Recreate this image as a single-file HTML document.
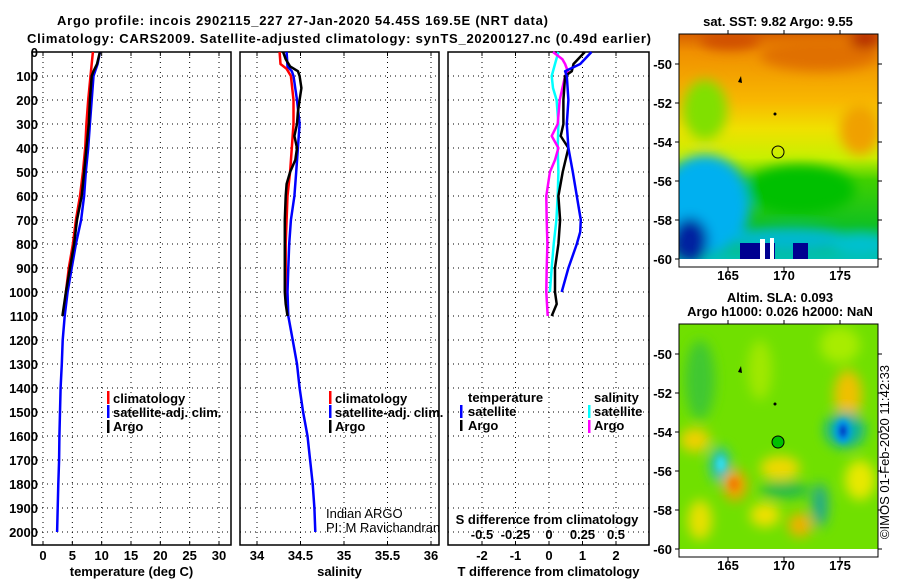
<!DOCTYPE html>
<html><head><meta charset="utf-8">
<style>
html,body{margin:0;padding:0;background:#fff;}
svg{display:block;font-family:"Liberation Sans",sans-serif;}
.t{font-weight:bold;font-size:13px;fill:#000;}
.grid{stroke:#000;stroke-width:1;stroke-dasharray:1 4;}
</style></head>
<body>
<svg id="fig" width="900" height="580" viewBox="0 0 900 580">
<defs>
<filter id="bl" x="-50%" y="-50%" width="200%" height="200%"><feGaussianBlur stdDeviation="6"/></filter>
<filter id="bl2" x="-50%" y="-50%" width="200%" height="200%"><feGaussianBlur stdDeviation="3"/></filter>
<clipPath id="c1"><rect x="679" y="34" width="199" height="225"/></clipPath>
<clipPath id="c2"><rect x="679" y="324" width="199" height="225"/></clipPath>
<linearGradient id="sst" x1="0" y1="0" x2="0" y2="1">
<stop offset="0" stop-color="#d86000"/><stop offset="0.08" stop-color="#f09000"/><stop offset="0.3" stop-color="#f8b800"/>
<stop offset="0.42" stop-color="#f0e000"/><stop offset="0.55" stop-color="#c8f000"/><stop offset="0.65" stop-color="#40d000"/>
<stop offset="0.85" stop-color="#10c020"/><stop offset="1" stop-color="#00c0b0"/>
</linearGradient>
</defs>
<text class="t" x="57" y="25" font-size="14" textLength="491">Argo profile: incois 2902115_227 27-Jan-2020 54.45S 169.5E (NRT data)</text>
<text class="t" x="27" y="43" font-size="14" textLength="624">Climatology: CARS2009. Satellite-adjusted climatology: synTS_20200127.nc (0.49d earlier)</text>
<g id="panels"></g>
<g id="legends">
 <rect x="107" y="391" width="2.5" height="13" fill="#f00"/>
 <text class="t" x="113" y="403">climatology</text>
 <rect x="107" y="405" width="2.5" height="13" fill="#00f"/>
 <text class="t" x="113" y="417">satellite-adj. clim.</text>
 <rect x="107" y="420" width="2.5" height="13" fill="#000"/>
 <text class="t" x="113" y="431">Argo</text>
 <rect x="329" y="391" width="2.5" height="13" fill="#f00"/>
 <text class="t" x="335" y="403">climatology</text>
 <rect x="329" y="405" width="2.5" height="13" fill="#00f"/>
 <text class="t" x="335" y="417">satellite-adj. clim.</text>
 <rect x="329" y="420" width="2.5" height="13" fill="#000"/>
 <text class="t" x="335" y="431">Argo</text>
 <text x="326" y="518" font-size="13">Indian ARGO</text>
 <text x="326" y="532" font-size="13">PI: M Ravichandran</text>
 <text class="t" x="468" y="402">temperature</text>
 <rect x="460" y="405" width="2.5" height="13" fill="#00f"/>
 <text class="t" x="468" y="416">satellite</text>
 <rect x="460" y="420" width="2.5" height="11" fill="#000"/>
 <text class="t" x="468" y="430">Argo</text>
 <text class="t" x="594" y="402">salinity</text>
 <rect x="588" y="405" width="2.5" height="13" fill="#0ff"/>
 <text class="t" x="594" y="416">satellite</text>
 <rect x="588" y="420" width="2.5" height="13" fill="#f0f"/>
 <text class="t" x="594" y="430">Argo</text>
 <text class="t" x="547" y="524" text-anchor="middle">S difference from climatology</text>
</g>
<g id="maps">
 <text class="t" x="778" y="26" text-anchor="middle">sat. SST: 9.82 Argo: 9.55</text>
 <g clip-path="url(#c1)">
  <rect x="679" y="34" width="199" height="225" fill="url(#sst)"/>
  <g filter="url(#bl)">
   <ellipse cx="730" cy="40" rx="30" ry="10" fill="#d05000"/>
   <ellipse cx="820" cy="55" rx="60" ry="16" fill="#e07000"/>
   <ellipse cx="865" cy="40" rx="15" ry="8" fill="#b02000"/>
   <ellipse cx="705" cy="110" rx="22" ry="30" fill="#80e000"/>
   <ellipse cx="860" cy="130" rx="20" ry="25" fill="#f0a000"/>
   <ellipse cx="705" cy="205" rx="45" ry="50" fill="#00b0f0"/>
   <ellipse cx="690" cy="240" rx="18" ry="22" fill="#0020a0"/>
   <ellipse cx="790" cy="240" rx="60" ry="12" fill="#00b8d0"/>
   <ellipse cx="860" cy="245" rx="30" ry="12" fill="#00c0d0"/>
   <ellipse cx="800" cy="190" rx="55" ry="25" fill="#00c000"/>
  </g>
  <rect x="740" y="243" width="35" height="16" fill="#000090"/>
  <rect x="760" y="239" width="5" height="20" fill="#fff"/>
  <rect x="770" y="238" width="4" height="21" fill="#fff"/>
  <rect x="793" y="243" width="15" height="16" fill="#000090"/>
  <circle cx="778" cy="152" r="6" fill="none" stroke="#000" stroke-width="1"/>
  <path d="M738,82 l3,-6 l1,7 z" fill="#000"/>
  <circle cx="775" cy="114" r="1.5" fill="#000"/>
 </g>
 <rect x="679" y="259" width="199" height="8" fill="#fff"/>
 <rect x="679" y="34" width="199" height="233" fill="none" stroke="#000"/>
 <text class="t" x="780" y="302" text-anchor="middle">Altim. SLA: 0.093</text>
 <text class="t" x="780" y="316" text-anchor="middle">Argo h1000: 0.026 h2000: NaN</text>
 <g clip-path="url(#c2)">
  <rect x="679" y="324" width="199" height="225" fill="#70e000"/>
  <g filter="url(#bl)">
   <ellipse cx="700" cy="380" rx="15" ry="40" fill="#40c830"/>
   <ellipse cx="760" cy="370" rx="12" ry="30" fill="#a0e800"/>
   <ellipse cx="840" cy="345" rx="20" ry="18" fill="#a8ec00"/>
   <ellipse cx="848" cy="395" rx="14" ry="25" fill="#f0c000"/>
   <ellipse cx="845" cy="430" rx="20" ry="18" fill="#10b0a0"/>
   <ellipse cx="695" cy="440" rx="15" ry="12" fill="#f0d000"/>
   <ellipse cx="720" cy="465" rx="10" ry="18" fill="#20c0c0"/>
   <ellipse cx="735" cy="485" rx="12" ry="16" fill="#f0a000"/>
   <ellipse cx="780" cy="468" rx="20" ry="12" fill="#f0d800"/>
   <ellipse cx="785" cy="490" rx="25" ry="8" fill="#20b850"/>
   <ellipse cx="820" cy="505" rx="8" ry="22" fill="#20a890"/>
   <ellipse cx="765" cy="515" rx="15" ry="12" fill="#f0e000"/>
   <ellipse cx="800" cy="525" rx="12" ry="12" fill="#f0b000"/>
   <ellipse cx="700" cy="520" rx="12" ry="20" fill="#e8e000"/>
   <ellipse cx="860" cy="480" rx="15" ry="20" fill="#e8e800"/>
  </g>
  <g filter="url(#bl2)">
   <ellipse cx="843" cy="431" rx="8" ry="12" fill="#00a0f0"/>
   <ellipse cx="843" cy="431" rx="4" ry="7" fill="#0020c0"/>
   <ellipse cx="721" cy="464" rx="4" ry="7" fill="#30e0f0"/>
   <ellipse cx="734" cy="484" rx="5" ry="6" fill="#f08000"/>
  </g>
  <circle cx="778" cy="442" r="6" fill="#00c000" stroke="#000" stroke-width="1"/>
  <path d="M738,372 l3,-6 l1,7 z" fill="#000"/>
  <circle cx="775" cy="404" r="1.5" fill="#000"/>
 </g>
 <rect x="679" y="549" width="199" height="8" fill="#fff"/>
 <rect x="679" y="324" width="199" height="233" fill="none" stroke="#000"/>
 <text x="889" y="452" font-size="13" text-anchor="middle" transform="rotate(-90 889 452)">©IMOS 01-Feb-2020 11:42:33</text>
 <g id="mapaxes"></g>
</g>
</svg>
<script>
// depth grid
const depthTicks = [0,100,200,300,400,500,600,700,800,900,1000,1100,1200,1300,1400,1500,1600,1700,1800,1900,2000];
// temperature (deg C)
const climTDepth = [0,50,100,200,300,400,500,600,700,800,900,1000,1100];
const climT = [8.5,8.3,8.1,7.7,7.4,7.2,6.8,6.3,5.6,5.1,4.4,3.9,3.5];
const satTDepth = [0,50,100,200,300,400,500,600,700,800,900,1000,1100,1200,1300,1400,1500,1600,1700,1800,1900,2000];
const satT = [9.7,9.3,8.6,8.3,8.0,7.7,7.3,7.0,6.5,5.6,4.9,4.2,3.7,3.35,3.2,3.0,2.9,2.8,2.75,2.6,2.5,2.4];
const argoTDepth = [0,50,80,100,200,300,400,500,600,700,800,900,1000,1100];
const argoT = [9.7,9.2,8.6,8.3,8.0,7.8,7.4,7.0,6.6,5.8,5.3,4.6,3.9,3.3];
// salinity
const climSDepth = [0,50,70,100,200,300,400,500,600,700,800,900,1000,1050,1100];
const climS = [34.26,34.27,34.34,34.39,34.42,34.42,34.40,34.38,34.35,34.34,34.33,34.33,34.33,34.34,34.36];
const satS = [34.34,34.35,34.40,34.42,34.46,34.49,34.47,34.45,34.43,34.39,34.37,34.36,34.35,34.36,34.41,34.46,34.49,34.53,34.58,34.61,34.64,34.66,34.67];
const satSDepth = [0,60,80,100,200,300,400,500,600,700,800,900,1000,1100,1200,1300,1400,1500,1600,1700,1800,1900,2000];
const argoSDepth = [0,30,60,80,100,150,200,250,300,350,400,450,500,550,600,700,800,900,1000,1050,1100];
const argoS = [34.30,34.33,34.38,34.47,34.49,34.51,34.49,34.47,34.46,34.43,34.46,34.44,34.38,34.34,34.33,34.32,34.32,34.32,34.32,34.33,34.35];
// differences from climatology
const tDiffSatDepth = [0,50,80,100,200,300,400,500,600,700,750,800,900,1000];
const tDiffSat = [1.27,0.93,0.48,0.53,0.58,0.53,0.58,0.71,0.83,0.95,0.93,0.83,0.58,0.38];
const tDiffArgoDepth = [0,50,80,100,200,300,350,400,500,600,700,800,900,1000,1050,1100];
const tDiffArgo = [1.07,0.73,0.68,0.48,0.43,0.43,0.35,0.58,0.41,0.28,0.33,0.28,0.18,0.18,0.23,0.08];
const sDiffSatDepth = [0,50,100,150,200,300,400,500,600,700,800,900,1000];
const sDiffSat = [0.07,0.045,0.02,0.03,0.057,0.07,0.065,0.07,0.065,0.055,0.035,0.02,0.007];
const sDiffArgoDepth = [0,30,50,80,100,200,300,350,400,450,500,600,700,800,900,1000,1100];
const sDiffArgo = [0.03,0.10,0.12,0.14,0.12,0.08,0.065,0.02,0.07,0.045,0.007,-0.02,-0.017,-0.012,-0.017,-0.02,-0.01];
// tick labels
const tempTicks = [0,5,10,15,20,25,30];
const salTicks = [34,34.5,35,35.5,36];
const salTickLabels = ["34","34.5","35","35.5","36"];
const tDiffTicks = [-2,-1,0,1,2];
const sDiffTicks = [-0.5,-0.25,0,0.25,0.5];
const sDiffTickLabels = ["-0.5","-0.25","0","0.25","0.5"];
const lonTicks = [165,170,175];
const latTicks = [-50,-52,-54,-56,-58,-60];

const NS = "http://www.w3.org/2000/svg";
const P = document.getElementById("panels");
function mk(tag, attrs, parent){const e=document.createElementNS(NS,tag);for(const k in attrs)e.setAttribute(k,attrs[k]);(parent||P).appendChild(e);return e;}
const yD = d => 52 + d*0.24;
const PT = 52, PB = 545;
const xT = v => 43 + v*(176/30);
const xS = v => 257 + (v-34)*87;
const xTd = v => 549 + v*33.5;
const xSd = v => 549 + v*134;

function panel(name, x0, x1, gx, labels, labelY, title){
  const g = mk("g",{});
  
  
  for(let i=1;i<depthTicks.length;i++){
    const l=mk("line",{x1:x0,x2:x1,y1:yD(depthTicks[i]),y2:yD(depthTicks[i]),class:"grid"},g);
    
    
  }
  gx.forEach((v,i)=>{
    const l=mk("line",{x1:v,x2:v,y1:PT,y2:PB,class:"grid"},g);
    
    
    mk("line",{x1:v,x2:v,y1:PT,y2:PT+4,stroke:"#000"},g);
    mk("line",{x1:v,x2:v,y1:PB,y2:PB-4,stroke:"#000"},g);
    if(labels){
      const t=mk("text",{x:v,y:labelY,class:"t","text-anchor":"middle"},g);
      t.textContent=labels[i];
      
      
    }
  });
  const f=mk("rect",{x:x0,y:PT,width:x1-x0,height:PB-PT,fill:"none",stroke:"#000","stroke-width":1.5},g);
  
  
  const tt=mk("text",{x:(x0+x1)/2,y:576,class:"t","text-anchor":"middle"},g);
  tt.textContent=title;
  
  
  return g;
}
function series(g, name, depths, vals, xf, color){
  const pts = depths.map((d,i)=>xf(vals[i]).toFixed(1)+","+yD(d).toFixed(1)).join(" ");
  const l=mk("polyline",{points:pts,fill:"none",stroke:color,"stroke-width":2.5,"stroke-linejoin":"round"},g);
  
  
}
depthTicks.forEach(d=>{
  const t=mk("text",{x:38,y:yD(d)+5,class:"t","text-anchor":"end"});
  t.textContent=d;
  
  
});
const g1=panel("temperature-panel",32,231,tempTicks.map(xT),tempTicks.map(String),560,"temperature (deg C)");
series(g1,"temp-climatology-line",climTDepth,climT,xT,"#f00");
series(g1,"temp-satellite-line",satTDepth,satT,xT,"#00f");
series(g1,"temp-argo-line",argoTDepth,argoT,xT,"#000");
const g2=panel("salinity-panel",240,439,salTicks.map(xS),salTickLabels,560,"salinity");
series(g2,"sal-climatology-line",climSDepth,climS,xS,"#f00");
series(g2,"sal-satellite-line",satSDepth,satS,xS,"#00f");
series(g2,"sal-argo-line",argoSDepth,argoS,xS,"#000");
const g3=panel("difference-panel",448,649,tDiffTicks.map(xTd),tDiffTicks.map(String),560,"T difference from climatology");
sDiffTicks.forEach((v,i)=>{
  const t=mk("text",{x:xSd(v),y:539,class:"t","text-anchor":"middle"},g3);
  t.textContent=sDiffTickLabels[i];
  
  
});
series(g3,"sdiff-satellite-line",sDiffSatDepth,sDiffSat,xSd,"#0ff");
series(g3,"sdiff-argo-line",sDiffArgoDepth,sDiffArgo,xSd,"#f0f");
series(g3,"tdiff-argo-line",tDiffArgoDepth,tDiffArgo,xTd,"#000");
series(g3,"tdiff-satellite-line",tDiffSatDepth,tDiffSat,xTd,"#00f");

const MA=document.getElementById("mapaxes");
const lonX = l => 728 + (l-165)*11.2;
[[34,267,64,280,"sst"],[324,557,354,570,"sla"]].forEach(m=>{
  const [top,bot,lat50,ly,nm]=m;
  lonTicks.forEach(l=>{
    mk("line",{x1:lonX(l),x2:lonX(l),y1:top,y2:top-4,stroke:"#000"},MA);
    mk("line",{x1:lonX(l),x2:lonX(l),y1:bot,y2:bot+4,stroke:"#000"},MA);
    const t=mk("text",{x:lonX(l),y:ly,class:"t","text-anchor":"middle"},MA);
    t.textContent=l;
    
    
  });
  latTicks.forEach(la=>{
    const y=lat50+(-50-la)*19.5;
    mk("line",{x1:679,x2:675,y1:y,y2:y,stroke:"#000"},MA);
    mk("line",{x1:878,x2:882,y1:y,y2:y,stroke:"#000"},MA);
    const t=mk("text",{x:672,y:y+5,class:"t","text-anchor":"end"},MA);
    t.textContent=la;
    
    
  });
});
</script>
</body></html>
